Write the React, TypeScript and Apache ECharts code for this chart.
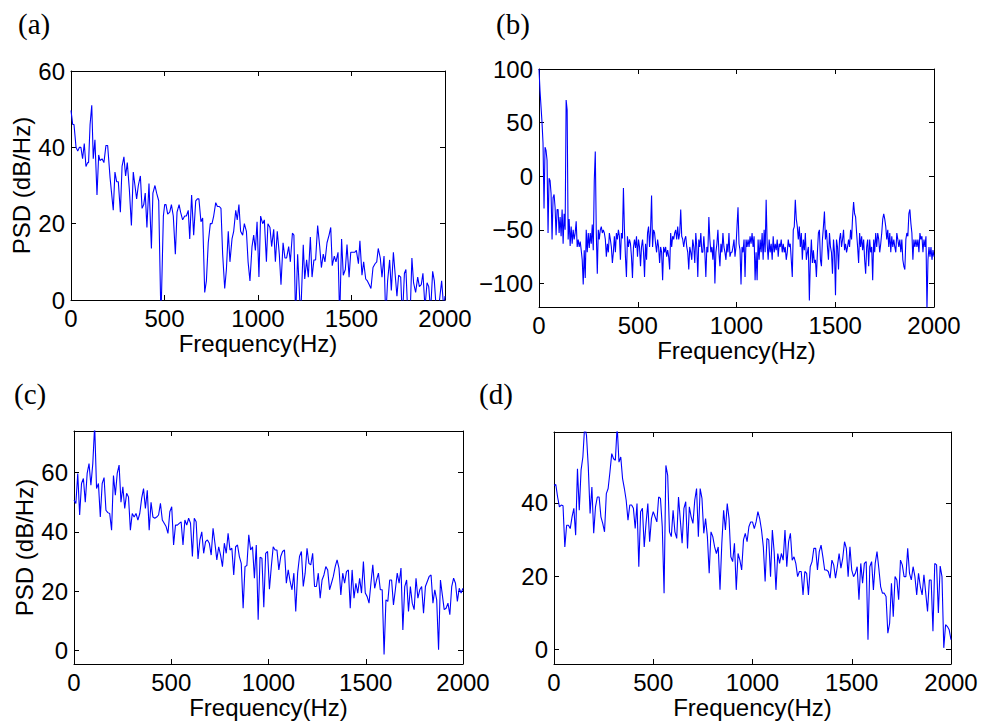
import React, { useEffect, useRef } from "react";
import * as echarts from "echarts";

// ---------- DATA ----------
const xTicks = [0, 500, 1000, 1500, 2000];
const yTicksA = [0, 20, 40, 60];
const yTicksB = [-100, -50, 0, 50, 100];
const yTicksC = [0, 20, 40, 60];
const yTicksD = [0, 20, 40];

// panel (a): [frequency Hz, PSD dB/Hz]
const psdA: [number, number][] = [
  [0,49.7],[9,46],[16,46],[27,40],[36,39],[45,40],[53,40],[62,37],[71,41],[80,35],[89,36],[94,36],[102,46],[111,51],[119,37],[128,42],[139,27.5],[148,38],[155,36.5],[166,37],[176,36],[187,40.5],[196,40.5],[209,32],[217,28],[226,23.5],[235,33.5],[244,31],[253,31],[264,23],[273,35],[283,37.5],[292,32.5],[301,36],[312,29],[323,19.5],[333,33.5],[342,30],[351,26.5],[360,30],[371,32.5],[380,24],[389,25],[397,28],[406,19],[417,30.5],[430,13.5],[438,28],[449,30],[458,28],[469,26],[481,-5],[494,22],[501,25],[508,25],[517,22.5],[528,23],[537,25],[547,22],[558,12],[567,23],[578,25],[586,23],[597,21],[608,22],[617,22],[627,23.5],[635,16],[645,27.5],[656,17],[667,26],[676,26.5],[684,26.5],[695,20.5],[704,21.5],[715,2],[724,5],[734,15],[745,20],[754,20],[763,22],[774,25.5],[783,24.5],[793,24.5],[802,24],[811,12],[822,3],[831,8],[841,18],[850,10],[861,16],[870,18],[881,23.5],[889,21],[898,25],[907,18],[918,17],[927,20],[938,18],[947,10],[957,5],[968,14],[977,17],[986,13],[995,20.5],[1005,6],[1014,22],[1025,20],[1034,21],[1045,10],[1053,20],[1064,19],[1073,14],[1084,18.5],[1093,10],[1103,18],[1114,12],[1123,4],[1134,15],[1144,11],[1153,11],[1164,14],[1173,10],[1184,17.5],[1192,17],[1201,-5],[1212,12],[1228,-5],[1242,14.5],[1250,5.5],[1260,10.5],[1269,6],[1280,16.5],[1289,6],[1299,10.5],[1308,10.5],[1319,19.5],[1330,14],[1339,8.5],[1349,12],[1358,10],[1369,15],[1380,17],[1389,19],[1397,9],[1408,11.5],[1417,10],[1428,12.5],[1437,-5],[1447,16],[1456,6.5],[1467,8],[1476,14.5],[1487,6],[1496,12.5],[1506,12.5],[1517,12.5],[1526,13],[1537,9.5],[1545,15.5],[1556,6.5],[1565,10],[1576,5.5],[1585,5],[1595,4],[1604,3],[1615,8.5],[1626,9.5],[1635,10],[1643,13.5],[1654,11],[1663,6],[1674,11.5],[1683,-5],[1693,5],[1704,10.5],[1713,2.5],[1724,12.5],[1733,7],[1743,1],[1752,6.5],[1763,6],[1772,-5],[1783,7],[1791,8],[1802,-5],[1813,-5],[1823,11],[1832,4.5],[1843,2],[1854,6],[1863,3.5],[1873,4],[1882,7],[1893,-2],[1904,4.5],[1913,3.5],[1923,-3],[1934,7.5],[1943,5],[1954,-3],[1964,-3],[1973,1],[1982,5],[1993,-2],[2000,1]
];

// panels (b), (c), (d): PSD values on equally spaced frequency bins from 0 to 2000 Hz
const psdB: number[] = [
  100,80,65,50,31,-30,27,24,15,-53,-2,-4,-16,-59,-20,-17,-29,-55,-31,-31,-53,-38,-56,-31,-63,-35,-50,71,62,-59,-40,-65,-47,-63,-50,-59,-53,-42,-66,-59,-66,-61,-69,-78,-101,-69,-95,-50,-71,-53,-67,-53,-63,-45,-69,-4,23,-53,-91,-50,-59,-50,-47,-53,-50,-53,-59,-75,-63,-71,-53,-59,-66,-81,-71,-56,-71,-53,-59,-50,-56,-78,-53,-58,-11,-50,-75,-94,-56,-66,-59,-63,-75,-95,-66,-59,-67,-56,-75,-59,-66,-84,-66,-59,-71,-94,-63,-78,-53,-47,-66,-50,-18,-66,-50,-53,-63,-71,-59,-66,-81,-66,-71,-97,-66,-71,-66,-75,-69,-75,-87,-53,-66,-56,-59,-53,-50,-59,-47,-59,-53,-31,-56,-59,-66,-59,-56,-66,-71,-87,-66,-71,-78,-59,-66,-81,-53,-66,-94,-59,-66,-53,-71,-71,-56,-71,-94,-66,-71,-38,-59,-71,-66,-78,-59,-100,-71,-63,-50,-71,-84,-63,-71,-53,-66,-71,-78,-63,-71,-53,-75,-71,-71,-66,-59,-75,-66,-47,-29,-63,-69,-101,-66,-71,-59,-94,-59,-66,-59,-66,-56,-63,-53,-66,-56,-97,-71,-97,-59,-78,-59,-71,-53,-78,-50,-71,-22,-63,-78,-59,-71,-63,-78,-56,-71,-63,-69,-59,-75,-63,-66,-59,-71,-63,-71,-66,-78,-71,-59,-66,-63,-78,-94,-50,-47,-22,-40,-47,-59,-47,-66,-53,-78,-59,-69,-53,-78,-71,-66,-116,-78,-59,-81,-69,-81,-78,-94,-71,-53,-50,-78,-84,-59,-47,-33,-59,-50,-66,-78,-53,-66,-71,-91,-59,-71,-111,-59,-66,-87,-59,-53,-66,-59,-50,-69,-63,-71,-66,-59,-66,-50,-59,-38,-24,-35,-38,-53,-66,-81,-53,-66,-56,-69,-59,-78,-91,-66,-59,-84,-59,-71,-66,-97,-59,-71,-53,-66,-53,-59,-71,-63,-53,-40,-35,-40,-47,-59,-50,-66,-53,-71,-56,-66,-59,-66,-71,-53,-59,-66,-59,-71,-59,-78,-84,-87,-59,-53,-56,-35,-31,-44,-53,-78,-59,-66,-59,-66,-59,-71,-53,-59,-56,-71,-59,-66,-56,-125,-78,-66,-75,-66,-78,-69,-75
];

const psdC: number[] = [
  50.7,49.6,59.7,45.7,56.3,58,50,59.7,63,55.7,63,76,54.6,56.3,45,56.3,58.3,47.3,46.5,46.2,40.6,59,52.4,59.7,62.5,50,55.2,47.9,53,51.8,40.6,46.2,45,46.2,44,46.2,51.3,54.6,47.9,54,40.6,50,45,44.6,45,45.7,49.6,44,42.9,41.8,39.5,46.8,48.5,35.6,42.3,42.3,42.9,43.4,35.6,44,42.3,44.6,42.9,31.7,44.6,43.4,30.9,37.3,40,32.8,36.7,37.3,36.2,32.2,41.2,36.2,30.6,35,32.2,28.3,36.2,32.8,39.5,33.9,34.5,25.5,35,35.6,31.7,29.4,14.3,28.3,28.7,39,33.9,35,24.4,35.6,10.4,31.5,31.1,14.6,32.8,33.4,20.7,28.3,35,33.9,33.9,27.2,31.7,33.4,33.9,22.7,27.2,23.3,20.5,26.1,13.2,26.1,31.7,33.4,21.6,26.1,34.5,29.4,28.9,32.8,21.6,21.6,26.1,17.7,23.8,25.5,28.3,27.2,20.5,22.7,25,28.3,30.6,27.8,18.8,26.1,22.7,26.6,27.2,14.3,27.2,17.7,22.7,19.4,24.4,19.4,30,19.4,18.2,16,22.7,28.9,21,23.8,26.1,20.5,20.5,-1.3,17.1,16.6,23.8,23.8,15.4,20.5,26.1,22.7,27.8,7,21.6,23.8,13.2,21.6,16,13.8,24.4,17.7,20.5,21.6,12.6,21.6,23.3,25,25.5,16,20.5,17.1,0.3,23.8,18.8,13.8,14.3,16,12.1,21.6,24.4,22.7,16.6,21,19.4,21
];

const psdD: number[] = [
  44.8,45,41.6,38.9,39.4,39.2,28,33.9,33.9,33,36.2,38.5,31.2,49.3,38,48.9,52.5,61,58.4,49.8,37.1,44.3,31.7,38.9,41.6,41.6,36.2,34.4,32.1,42.5,43.9,48.4,53.4,52,51.6,61,51.1,52.5,46.6,43.9,40.7,35.3,39.4,39.4,38.5,33,39.8,22.6,37.6,38.5,28,34.4,39.8,29.4,35.7,37.6,36.2,34.8,41.6,41.2,33.5,15.4,50.2,47.5,32.1,30.8,38,32.1,30.3,41.6,35.3,29,38.5,40.3,27.6,38.9,36.2,34.4,40.7,43.9,30.8,43.9,41.2,31.7,35.7,30.8,20.8,32.1,30.8,28,26.2,28,16.3,29,38,32.6,39.8,35.7,25.3,24,29,16.3,26.2,24.4,21.7,29.9,31.7,29.4,33.5,34.8,34.8,33,34.8,37.6,35.7,32.6,28,18.6,30.3,29.9,19.9,32.6,26.7,16.3,26.2,23.5,26.2,24.4,32.6,22.6,29.4,31.7,24.4,25.3,23.5,19.9,21.3,21.3,14.9,21.3,20.8,14.9,22.6,24,27.6,27.6,21.7,26.7,28.5,25.3,21.7,21.7,21.3,19.5,24.4,23.1,19.5,22.6,26.2,22.2,24.9,29.4,27.6,19.9,28,21.7,19.9,20.8,22.6,13.6,23.5,18.1,23.5,24,2.7,22.6,24,16.3,23.5,26.7,22.2,17.2,15.4,15.4,14.5,4.5,7.2,18.1,9,19.9,19,13.6,24.4,23.1,19.9,19.9,27.6,20.8,19,22.6,19.9,14.9,20.8,17.2,14.9,20.4,15.4,10.4,19,19,5,23.5,23.1,10,22.8,19.9,0.5,6.8,6.3,5.4,2.7
];

const FREQ_MAX = 2000;
const toBins = (vals: number[]): [number, number][] =>
  vals.map((v, i) => [(i * FREQ_MAX) / (vals.length - 1), v]);

// ---------- LAYOUT ----------
const FONT = "'Liberation Sans', Arial, Helvetica, sans-serif";
const FS = 24;

type Panel = {
  label: string;
  labelX: number;
  labelY: number;
  grid: { left: number; top: number; width: number; height: number };
  yMin: number;
  yMax: number;
  yTicks: number[];
  yName: string;
  data: [number, number][];
};

const panels: Panel[] = [
  { label: "(a)", labelX: 18, labelY: 9, grid: { left: 71, top: 71, width: 374, height: 229 }, yMin: 0, yMax: 60, yTicks: yTicksA, yName: "PSD (dB/Hz)", data: psdA },
  { label: "(b)", labelX: 496, labelY: 9, grid: { left: 539, top: 69, width: 395, height: 238 }, yMin: -122, yMax: 100, yTicks: yTicksB, yName: "", data: toBins(psdB) },
  { label: "(c)", labelX: 14, labelY: 379, grid: { left: 74, top: 431, width: 389, height: 233 }, yMin: -4.5, yMax: 74, yTicks: yTicksC, yName: "PSD (dB/Hz)", data: toBins(psdC) },
  { label: "(d)", labelX: 479, labelY: 379, grid: { left: 554, top: 432, width: 397, height: 232 }, yMin: -3.9, yMax: 59.3, yTicks: yTicksD, yName: "", data: toBins(psdD) },
];

const fmtY = (v: number) => String(v).replace("-", "\u2212");
const fmtX = (v: number) => String(v);

function buildOption() {
  const grid: any[] = [];
  const xAxis: any[] = [];
  const yAxis: any[] = [];
  const series: any[] = [];
  const graphic: any[] = [];

  panels.forEach((p, gi) => {
    grid.push({ ...p.grid, containLabel: false });
    const lineStyle = { color: "#000", width: 1 };
    const xCommon = {
      type: "value",
      gridIndex: gi,
      min: 0,
      max: FREQ_MAX,
      splitLine: { show: false },
      axisLine: { show: true, onZero: false, lineStyle },
      axisTick: { show: true, inside: true, length: 5, customValues: xTicks, lineStyle },
    };
    xAxis.push({
      ...xCommon,
      position: "bottom",
      name: "Frequency(Hz)",
      nameLocation: "middle",
      nameGap: 31,
      nameTextStyle: { color: "#000", fontSize: FS, fontFamily: FONT },
      axisLabel: { show: true, customValues: xTicks, color: "#000", fontSize: FS, fontFamily: FONT, margin: 6, formatter: fmtX },
    });
    xAxis.push({ ...xCommon, position: "top", axisLabel: { show: false } });

    const yCommon = {
      type: "value",
      gridIndex: gi,
      min: p.yMin,
      max: p.yMax,
      splitLine: { show: false },
      axisLine: { show: true, onZero: false, lineStyle },
      axisTick: { show: true, inside: true, length: 5, customValues: p.yTicks, lineStyle },
    };
    yAxis.push({
      ...yCommon,
      position: "left",
      name: p.yName,
      nameLocation: "middle",
      nameGap: 38,
      nameTextStyle: { color: "#000", fontSize: FS, fontFamily: FONT },
      axisLabel: { show: true, customValues: p.yTicks, color: "#000", fontSize: FS, fontFamily: FONT, margin: 6, formatter: fmtY },
    });
    yAxis.push({ ...yCommon, position: "right", axisLabel: { show: false } });

    series.push({
      type: "line",
      xAxisIndex: gi * 2,
      yAxisIndex: gi * 2,
      data: p.data,
      showSymbol: false,
      symbol: "none",
      clip: true,
      lineStyle: { color: "#0000ff", width: 1.1 },
      emphasis: { disabled: true },
    });

    graphic.push({
      type: "text",
      left: p.labelX,
      top: p.labelY,
      style: {
        text: p.label,
        fill: "#000",
        font: "29px 'Liberation Serif', 'DejaVu Serif', serif",
      },
    });
  });

  return { animation: false, backgroundColor: "#fff", grid, xAxis, yAxis, series, graphic };
}

export default function App() {
  const ref = useRef<HTMLDivElement>(null);
  useEffect(() => {
    if (!ref.current) return;
    const chart = echarts.init(ref.current, undefined, { renderer: "svg" });
    chart.setOption(buildOption() as any);
    return () => chart.dispose();
  }, []);
  return (
    <div
      ref={ref}
      style={{ position: "absolute", left: 0, top: 0, width: 981, height: 722, background: "#fff" }}
    />
  );
}
